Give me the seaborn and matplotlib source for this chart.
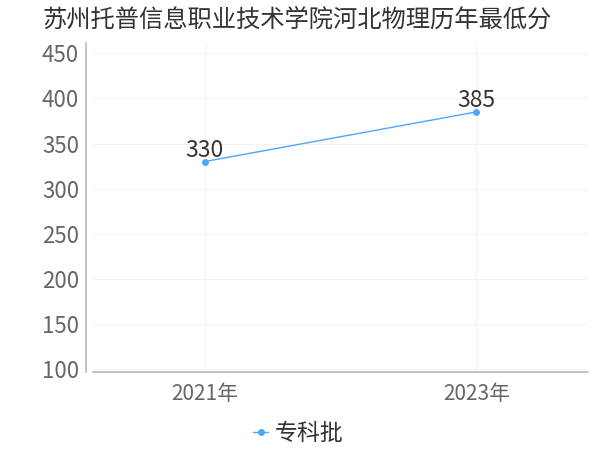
import pandas as pd
import seaborn as sns
import matplotlib
matplotlib.use('Agg')
import matplotlib.pyplot as plt

TITLE = "苏州托普信息职业技术学院河北物理历年最低分"
years = ["2021年", "2023年"]
scores = [330, 385]
series_name = "专科批"
y_ticks = [100, 150, 200, 250, 300, 350, 400, 450]

LINE_COLOR = "#4da6ff"


def draw():
    df = pd.DataFrame({"year": years, "score": scores})

    fig = plt.figure(figsize=(6, 4.5), dpi=100)
    ax = fig.add_axes([0.155, 0.173, 0.825, 0.731])

    sns.lineplot(data=df, x="year", y="score", ax=ax, color=LINE_COLOR,
                 marker="o", markersize=5, markeredgewidth=0, linewidth=1,
                 label=series_name)

    # value labels just above the points
    for i, v in enumerate(scores):
        ax.annotate(str(v), (i, v), xytext=(0, 0), textcoords="offset points",
                    ha="center", va="bottom", fontsize=16.5, color="#333333")

    ax.set_xlim(-0.41, 1.41)
    ax.set_ylim(97, 461)
    ax.set_yticks(y_ticks)
    ax.set_xlabel("")
    ax.set_ylabel("")

    ax.grid(True, color="#f3f3f3", linewidth=0.8)
    ax.set_axisbelow(True)
    for s in ["top", "right"]:
        ax.spines[s].set_visible(False)
    ax.spines["left"].set_position(("outward", 5))
    ax.spines["left"].set_color("#bbbbbb")
    ax.spines["bottom"].set_color("#bbbbbb")
    ax.tick_params(axis="y", labelsize=16, labelcolor="#666666", color="#bbbbbb", length=3, pad=2)
    ax.tick_params(axis="x", labelsize=15, labelcolor="#666666", color="#bbbbbb", length=3, pad=5)

    fig.text(0.07, 0.957, TITLE, fontsize=17.5, color="#333333", ha="left", va="center")

    ax.legend(loc="upper center", bbox_to_anchor=(0.415, -0.09), frameon=False,
              fontsize=16.5, handlelength=0.65, handletextpad=0.3,
              labelcolor="#333333")

    fig.savefig("out.png", dpi=100)
    plt.close(fig)


if __name__ == "__main__":
    sns.set_theme(style="white")
    plt.rcParams['font.family'] = ['Noto Sans CJK SC', 'DejaVu Sans']
    draw()
